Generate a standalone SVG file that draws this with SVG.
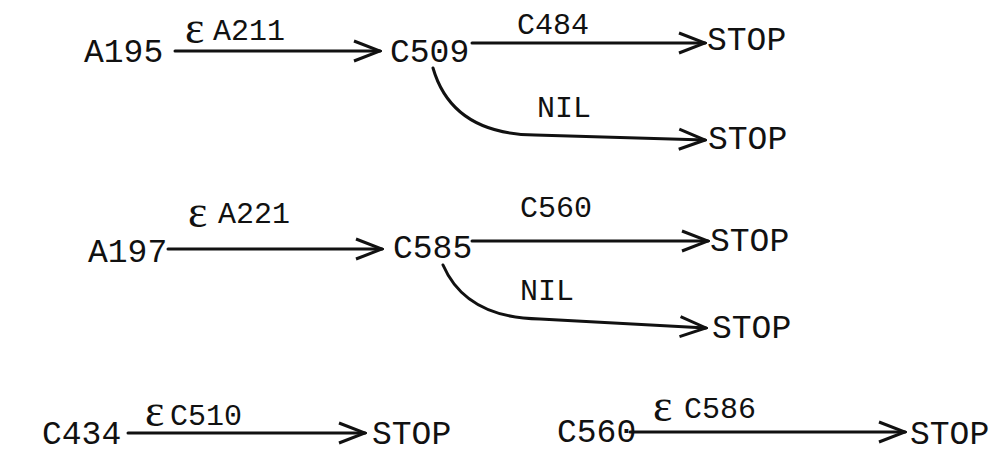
<svg xmlns="http://www.w3.org/2000/svg" width="1002" height="466" viewBox="0 0 1002 466">
<style>
.n{font-family:"Liberation Mono","Courier New",monospace;font-size:33px;fill:#111}
.l{font-family:"Liberation Mono","Courier New",monospace;font-size:30px;fill:#111}
.e{font-family:"Liberation Serif","Times New Roman",serif;font-size:46px;fill:#111}
.c{fill:none;stroke:#111;stroke-width:3;stroke-linecap:round;marker-end:url(#ah)}
</style>
<defs>
<marker id="ah" markerUnits="userSpaceOnUse" markerWidth="30" markerHeight="24" viewBox="0 0 30 24" refX="28" refY="12" orient="auto">
<path d="M2,2 L28,12 L2,22" fill="none" stroke="#111" stroke-width="3" stroke-linejoin="miter"/>
</marker>
</defs>
<rect width="1002" height="466" fill="#fff"/>
<g id="connectors">
<path class="c" d="M175,51 H380"/>
<path class="c" d="M472,43 H705"/>
<path class="c" d="M433,68 Q452,134 535,135 L705,140"/>
<path class="c" d="M168,249 H382"/>
<path class="c" d="M472,241 H708"/>
<path class="c" d="M443,265 Q466,318 540,319 L706,328"/>
<path class="c" d="M128,433 H365"/>
<path class="c" d="M630,432 H905"/>
</g>
<g id="labels">
<text class="e" x="185" y="43">ε</text><text class="l" x="213" y="40">A211</text>
<text class="l" x="517" y="34">C484</text>
<text class="l" x="537" y="117">NIL</text>
<text class="e" x="188" y="227">ε</text><text class="l" x="218" y="223">A221</text>
<text class="l" x="520" y="217">C560</text>
<text class="l" x="520" y="300">NIL</text>
<text class="e" x="145" y="426">ε</text><text class="l" x="170" y="425">C510</text>
<text class="e" x="653" y="421">ε</text><text class="l" x="684" y="418">C586</text>
</g>
<g id="A195"><text class="n" x="84" y="62">A195</text></g>
<g id="C509"><text class="n" x="390" y="62">C509</text></g>
<g id="STOP1"><text class="n" x="707" y="50">STOP</text></g>
<g id="STOP2"><text class="n" x="708" y="149">STOP</text></g>
<g id="A197"><text class="n" x="88" y="262">A197</text></g>
<g id="C585"><text class="n" x="393" y="258">C585</text></g>
<g id="STOP3"><text class="n" x="710" y="251">STOP</text></g>
<g id="STOP4"><text class="n" x="712" y="338">STOP</text></g>
<g id="C434"><text class="n" x="42" y="444">C434</text></g>
<g id="STOP5"><text class="n" x="372" y="444">STOP</text></g>
<g id="C560"><text class="n" x="557" y="442">C560</text></g>
<g id="STOP6"><text class="n" x="910" y="444">STOP</text></g>
</svg>
